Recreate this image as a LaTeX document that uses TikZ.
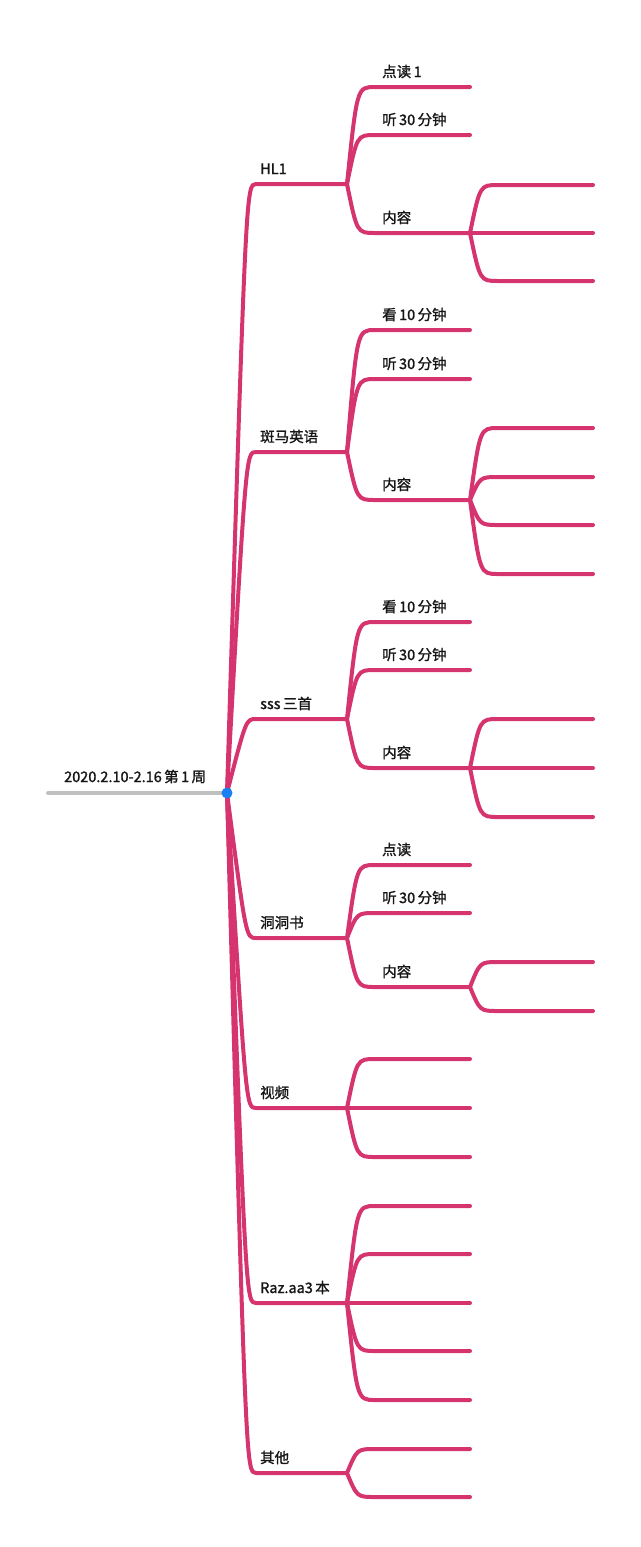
\documentclass[tikz,border=0pt]{standalone}
\usepackage{fontspec}
\setmainfont{Noto Sans CJK SC}[FakeBold=1.4]
\usepackage{tikz}
\usepackage{xcolor}
\usetikzlibrary{calc}
\definecolor{mmRose}{RGB}{214,52,110}
\definecolor{mmGrey}{RGB}{192,192,192}
\definecolor{mmBlue}{RGB}{24,128,240}
\definecolor{mmInk}{RGB}{22,22,22}
\tikzset{
  branch/.style={draw=mmRose,line width=4pt,line cap=round,line join=round},
  tag/.style={anchor=base west,inner sep=0pt,text=mmInk,font=\fontsize{14.5}{16}\selectfont}
}
% topic -> subtopic (line ends at x=470)
\newcommand{\twig}[4]{%
  \coordinate (#2) at (470,#3);
  \draw[branch] (#1) .. controls ($(#2)+(-113,0)$) .. ($(#2)+(-95,0)$) -- (#2);
  \node[tag] (#2-t) at (382,#3-10) {#4};
}
% subtopic -> empty leaf (line ends at x=593)
\newcommand{\leaf}[3]{%
  \coordinate (#2) at (593,#3);
  \draw[branch] (#1) .. controls ($(#2)+(-113,0)$) .. ($(#2)+(-95,0)$) -- (#2);
}

\begin{document}
\begin{tikzpicture}[x=1pt,y=-1pt]
  \useasboundingbox (0,0) rectangle (640,1547);
  \coordinate (root) at (227,793);
  \coordinate (start) at (48,793);
  \node[tag] (title) at (64,782) {2020.2.10-2.16\,第\,1\,周};
  \draw[line width=4pt,mmGrey,line cap=round] (start) -- (root);

  % main topics
  \foreach \nm/\y/\txt in {hl/184/HL1, zb/452/斑马英语, sss/719/sss\,三首, dd/938/洞洞书,
                           sp/1108/视频, raz/1303/Raz.aa3\,本, qt/1473/其他}{
    \coordinate (\nm) at (347,\y);
    \draw[branch] (root) .. controls ($(\nm)+(-101,0)$) .. ($(\nm)+(-91,0)$) -- (\nm);
    \node[tag] (\nm-t) at (260,\y-10) {\txt};
  }

  % HL1
  \foreach \k/\y/\txt in {a/87/点读\,1, b/135/听\,30\,分钟, c/233/内容}{\twig{hl}{hl-\k}{\y}{\txt}}
  \foreach \k/\y in {1/185,2/233,3/281}{\leaf{hl-c}{hl-c\k}{\y}}

  % 斑马英语
  \foreach \k/\y/\txt in {a/330/看\,10\,分钟, b/379/听\,30\,分钟, c/500/内容}{\twig{zb}{zb-\k}{\y}{\txt}}
  \foreach \k/\y in {1/428,2/477,3/525,4/574}{\leaf{zb-c}{zb-c\k}{\y}}

  % sss三首
  \foreach \k/\y/\txt in {a/622/看\,10\,分钟, b/670/听\,30\,分钟, c/768/内容}{\twig{sss}{sss-\k}{\y}{\txt}}
  \foreach \k/\y in {1/719,2/768,3/817}{\leaf{sss-c}{sss-c\k}{\y}}

  % 洞洞书
  \foreach \k/\y/\txt in {a/865/点读, b/913/听\,30\,分钟, c/987/内容}{\twig{dd}{dd-\k}{\y}{\txt}}
  \foreach \k/\y in {1/962,2/1011}{\leaf{dd-c}{dd-c\k}{\y}}

  % 视频, Raz, 其他: empty subtopics
  \foreach \k/\y in {1/1059,2/1108,3/1157}{\twig{sp}{sp-\k}{\y}{}}
  \foreach \k/\y in {1/1206,2/1254,3/1303,4/1351,5/1400}{\twig{raz}{raz-\k}{\y}{}}
  \foreach \k/\y in {1/1449,2/1497}{\twig{qt}{qt-\k}{\y}{}}

  \node[circle,fill=mmBlue,minimum size=11pt,inner sep=0pt] (dot) at (root) {};
\end{tikzpicture}
\end{document}
